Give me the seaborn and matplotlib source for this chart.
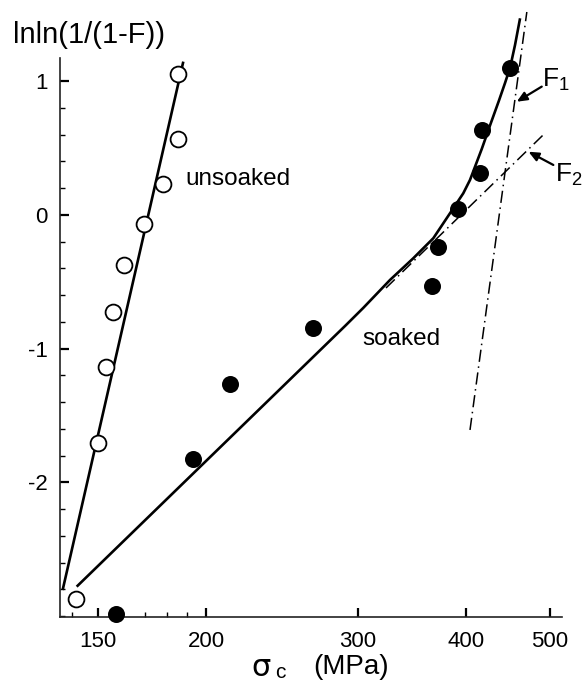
import numpy as np
import pandas as pd
import matplotlib
matplotlib.use("Agg")
import matplotlib.pyplot as plt
import matplotlib.ticker as mticker
import seaborn as sns

# ---- data ----
unsoaked_sigma = [185.7, 185.7, 178.4, 169.6, 160.7, 156.1, 153.1, 150.0, 141.3]
unsoaked_lnln = [1.055, 0.566, 0.235, -0.07, -0.374, -0.723, -1.139, -1.709, -2.872]

soaked_sigma = [157.1, 193.0, 213.2, 266.2, 365.7, 371.1, 392.0, 415.4, 417.3, 450.1]
soaked_lnln = [-2.987, -1.826, -1.264, -0.847, -0.529, -0.237, 0.043, 0.316, 0.639, 1.096]

unsoaked_fit_sigma = [136.4, 188.2]
unsoaked_fit_lnln = [-2.805, 1.147]

soaked_fit_sigma = [141.6, 290.0, 304.2, 326.7, 347.6, 366.7, 383.4, 397.2, 404.4,
                    417.3, 427.2, 436.9, 444.0, 450.1, 456.0, 462.2]
soaked_fit_lnln = [-2.780, -0.828, -0.695, -0.486, -0.324, -0.174, 0.013, 0.162, 0.262,
                   0.494, 0.681, 0.856, 0.987, 1.103, 1.271, 1.471]

F1_sigma = [404.4, 470.6]
F1_lnln = [-1.608, 1.518]
F2_sigma = [323.2, 491.1]
F2_lnln = [-0.546, 0.596]

x_major = [150, 200, 300, 400, 500]
x_minor = [140, 160, 170, 180, 190]
y_major = [-2, -1, 0, 1]

# ---- style ----
sns.set_theme(style="white")
plt.rcParams["font.family"] = ["Liberation Sans", "DejaVu Sans"]
plt.rcParams["axes.unicode_minus"] = False
plt.rcParams["mathtext.default"] = "regular"
plt.rcParams["text.color"] = "black"
plt.rcParams["lines.solid_capstyle"] = "butt"

fig = plt.figure(figsize=(5.83, 6.84), dpi=100)
ax = fig.add_axes([60 / 583, 1 - 617 / 684, (562 - 60) / 583, (617 - 58) / 684])
ax.set_xscale("log")

dd = (0, (8, 3, 1, 3))

# fitted lines
sns.lineplot(x=unsoaked_fit_sigma, y=unsoaked_fit_lnln, ax=ax, color="black",
             lw=1.9, clip_on=False, zorder=2)
sns.lineplot(x=soaked_fit_sigma, y=soaked_fit_lnln, ax=ax, color="black",
             lw=1.9, clip_on=False, zorder=2, sort=False)
ax.plot(F1_sigma, F1_lnln, color="black", lw=1.1, linestyle=dd, clip_on=False, zorder=2)
ax.plot(F2_sigma, F2_lnln, color="black", lw=1.1, linestyle=dd, clip_on=False, zorder=2)

# points
sns.scatterplot(x=unsoaked_sigma, y=unsoaked_lnln, ax=ax, marker="o", s=130,
                facecolor="white", edgecolor="black", linewidth=1.3,
                clip_on=False, zorder=4)
sns.scatterplot(x=soaked_sigma, y=soaked_lnln, ax=ax, marker="o", s=150,
                color="black", edgecolor="black", linewidth=0,
                clip_on=False, zorder=4)

# axes
ax.set_xlim(135.44, 516.9)
ax.set_ylim(-3.007, 1.174)
ax.xaxis.set_major_locator(mticker.FixedLocator(x_major))
ax.xaxis.set_minor_locator(mticker.FixedLocator(x_minor))
ax.xaxis.set_major_formatter(mticker.FixedFormatter([str(v) for v in x_major]))
ax.xaxis.set_minor_formatter(mticker.NullFormatter())
ax.yaxis.set_major_locator(mticker.FixedLocator(y_major))
ax.yaxis.set_minor_locator(mticker.MultipleLocator(0.2))
ax.yaxis.set_major_formatter(mticker.FixedFormatter([str(v) for v in y_major]))

for s in ["top", "right"]:
    ax.spines[s].set_visible(False)
for s in ["left", "bottom"]:
    ax.spines[s].set_color("#222222")
    ax.spines[s].set_linewidth(1.2)

ax.tick_params(which="both", bottom=True, left=True, top=False, right=False)
ax.tick_params(which="major", direction="in", length=6.5, width=1.6, color="black",
               labelsize=16, labelcolor="black")
ax.tick_params(which="minor", direction="in", length=3.5, width=1.0, color="black")
ax.tick_params(axis="y", which="major", pad=9)
ax.tick_params(axis="x", which="major", pad=10)
ax.set_xlabel("")
ax.set_ylabel("")

# annotations
ax.text(189.1, 0.224, "unsoaked", fontsize=17.5, ha="left", va="baseline")
ax.text(303.4, -0.972, "soaked", fontsize=17.5, ha="left", va="baseline")
ax.text(490.5, 0.955, r"$F_1$", fontsize=19, ha="left", va="baseline", clip_on=False)
ax.text(507.4, 0.249, r"$F_2$", fontsize=19, ha="left", va="baseline", clip_on=False)
arrow = dict(arrowstyle="-|>,head_length=0.5,head_width=0.22", color="black", lw=1.6,
             shrinkA=0, shrinkB=0)
ax.annotate("", xy=(458.1, 0.847), xytext=(489.7, 0.960), arrowprops=arrow,
            annotation_clip=False)
ax.annotate("", xy=(472.7, 0.473), xytext=(505.1, 0.374), arrowprops=arrow,
            annotation_clip=False)

# axis titles
fig.text(12.7 / 583, 1 - 43.3 / 684, "lnln(1/(1-F))", fontsize=21, ha="left",
         va="baseline")
fig.text(251 / 583, 1 - 676 / 684, "σ", fontsize=22, ha="left",
         va="baseline", family="DejaVu Sans")
fig.text(275 / 583, 1 - 678.5 / 684, "c", fontsize=15, ha="left", va="baseline")
fig.text(313 / 583, 1 - 674.5 / 684, "(MPa)", fontsize=20, ha="left", va="baseline")

fig.savefig("out.png", dpi=100)
